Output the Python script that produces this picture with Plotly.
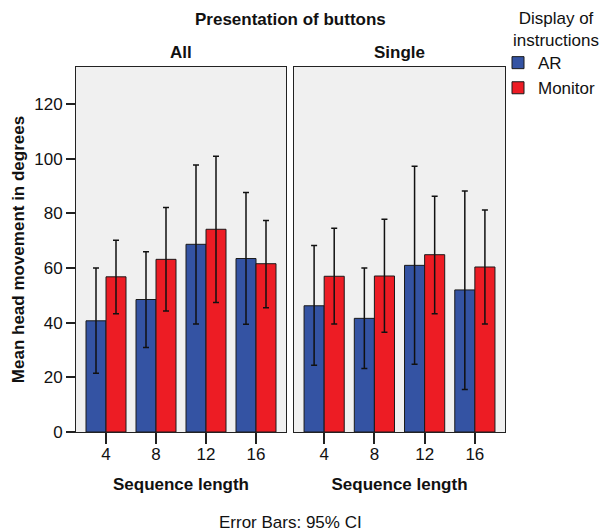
import plotly.graph_objects as go

categories = ["4", "8", "12", "16"]
panels = ["All", "Single"]

# Means (degrees)
all_ar = [40.7, 48.5, 68.7, 63.5]
all_mon = [56.8, 63.2, 74.2, 61.6]
single_ar = [46.2, 41.6, 61.0, 52.0]
single_mon = [57.0, 57.1, 64.9, 60.4]

# 95% CI upper / lower bounds
all_ar_hi = [60.0, 66.0, 97.7, 87.7]
all_ar_lo = [21.5, 30.9, 39.5, 39.4]
all_mon_hi = [70.2, 82.2, 100.9, 77.4]
all_mon_lo = [43.3, 44.3, 47.4, 45.5]
single_ar_hi = [68.3, 60.0, 97.3, 88.2]
single_ar_lo = [24.4, 23.2, 24.8, 15.6]
single_mon_hi = [74.6, 77.9, 86.3, 81.3]
single_mon_lo = [39.5, 36.5, 43.3, 39.5]

y_ticks = [0, 20, 40, 60, 80, 100, 120]

AR_COLOR = "#3453A3"
MON_COLOR = "#ED1C24"
FONT = "Liberation Sans, Arial, sans-serif"
FS = 17

fig = go.Figure()

def add_bar(name, means, hi, lo, color, xa, ya, show):
    fig.add_trace(go.Bar(
        x=categories, y=means, name=name, legendgroup=name, showlegend=show,
        marker=dict(color=color, line=dict(color="#1a1a1a", width=1)),
        error_y=dict(type="data", symmetric=False,
                     array=[h - m for h, m in zip(hi, means)],
                     arrayminus=[m - l for m, l in zip(means, lo)],
                     color="#111111", thickness=1.5, width=3),
        xaxis=xa, yaxis=ya,
    ))

add_bar("AR", all_ar, all_ar_hi, all_ar_lo, AR_COLOR, "x", "y", True)
add_bar("Monitor", all_mon, all_mon_hi, all_mon_lo, MON_COLOR, "x", "y", True)
add_bar("AR", single_ar, single_ar_hi, single_ar_lo, AR_COLOR, "x2", "y2", False)
add_bar("Monitor", single_mon, single_mon_hi, single_mon_lo, MON_COLOR, "x2", "y2", False)

xcommon = dict(type="category", range=[-0.6, 3.6], showline=True, mirror=True,
               linecolor="#222222", linewidth=1, ticks="outside", ticklen=11,
               tickcolor="#222222", tickwidth=1.5, showgrid=False,
               ticklabelstandoff=-4,
               tickfont=dict(size=FS, color="#111111", family=FONT),
               title=dict(text="<b>Sequence length</b>", standoff=14,
                          font=dict(size=FS, color="#111111", family=FONT)))
ycommon = dict(range=[0, 133.6], showline=True, mirror=True, linecolor="#222222",
               linewidth=1, showgrid=False, zeroline=False)

fig.update_layout(
    width=602, height=531,
    margin=dict(l=76, r=97, t=67, b=99, autoexpand=False),
    paper_bgcolor="white", plot_bgcolor="#F0F0F0",
    barmode="group", bargap=0.2, bargroupgap=0,
    font=dict(family=FONT, size=FS, color="#111111"),
    xaxis=dict(domain=[0, 0.4895], anchor="y", **xcommon),
    xaxis2=dict(domain=[0.5082, 1], anchor="y2", **xcommon),
    yaxis=dict(domain=[0, 1], anchor="x", ticks="outside", ticklen=9,
               tickcolor="#222222", tickwidth=1.5, tickvals=y_ticks,
               tickfont=dict(size=FS, color="#111111", family=FONT),
               title=dict(text="<b>Mean head movement in degrees</b>", standoff=5,
                          font=dict(size=FS, color="#111111", family=FONT)),
               **ycommon),
    yaxis2=dict(domain=[0, 1], anchor="x2", showticklabels=False, ticks="",
                **ycommon),
    legend=dict(x=0.9837, y=1.06, xanchor="left", yanchor="top",
                font=dict(size=FS, color="#111111", family=FONT),
                bgcolor="rgba(0,0,0,0)", tracegroupgap=0, itemwidth=30,
                traceorder="normal"),
    annotations=[
        dict(text="<b>Presentation of buttons</b>", x=0.5, y=1.1315, xref="paper",
             yref="paper", showarrow=False, xanchor="center", yanchor="middle",
             font=dict(size=FS, color="#111111")),
        dict(text="<b>All</b>", x=0.2448, y=1.041, xref="paper", yref="paper",
             showarrow=False, xanchor="center", yanchor="middle",
             font=dict(size=FS, color="#111111")),
        dict(text="<b>Single</b>", x=0.754, y=1.041, xref="paper", yref="paper",
             showarrow=False, xanchor="center", yanchor="middle",
             font=dict(size=FS, color="#111111")),
        dict(text="Display of<br>instructions", x=1.118, y=1.104, xref="paper",
             yref="paper", showarrow=False, xanchor="center", yanchor="middle",
             font=dict(size=FS, color="#111111")),
        dict(text="Error Bars: 95% CI", x=0.5, y=-0.2466, xref="paper",
             yref="paper", showarrow=False, xanchor="center", yanchor="middle",
             font=dict(size=FS, color="#111111")),
    ],
)

fig.write_html("out.html", config={"displayModeBar": False},
               post_script="document.body.style.margin='0';")
